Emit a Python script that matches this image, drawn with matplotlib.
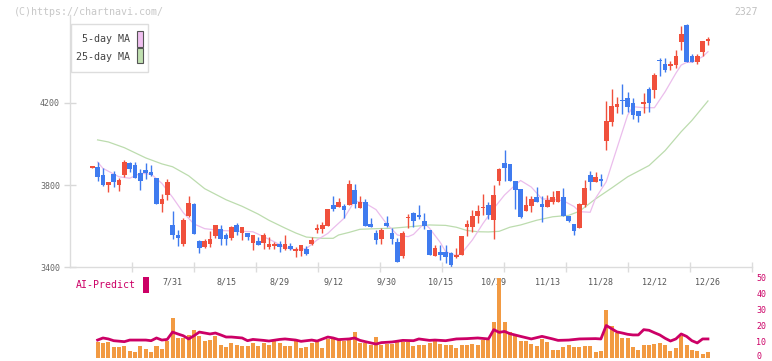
import numpy as np
import matplotlib
matplotlib.use("Agg")
import matplotlib.pyplot as plt
from matplotlib.patches import Rectangle
from matplotlib.transforms import ScaledTranslation

# ---------------- data ----------------
opens = [3885, 3888, 3849, 3802, 3854, 3802, 3849, 3906, 3898, 3857, 3873, 3863, 3834, 3706, 3753, 3605,
         3556, 3514, 3650, 3707, 3527, 3499, 3514, 3553, 3585, 3556, 3541, 3605, 3567, 3566, 3517, 3527,
         3519, 3499, 3502, 3512, 3489, 3502, 3479, 3480, 3489, 3512, 3582, 3585, 3602, 3704, 3694, 3698,
         3702, 3776, 3686, 3717, 3610, 3566, 3538, 3615, 3566, 3524, 3454, 3637, 3663, 3654, 3624, 3580,
         3454, 3473, 3473, 3468, 3449, 3459, 3595, 3595, 3649, 3686, 3702, 3629, 3821, 3907, 3902, 3820,
         3780, 3673, 3698, 3741, 3707, 3693, 3717, 3717, 3741, 3649, 3610, 3592, 3702, 3849, 3815, 3822,
         4015, 4107, 4180, 4212, 4224, 4200, 4161, 4195, 4268, 4263, 4407, 4390, 4380, 4385, 4498, 4580,
         4429, 4400, 4449, 4502]
highs = [3889, 3914, 3881, 3815, 3867, 3834, 3922, 3914, 3914, 3880, 3906, 3898, 3834, 3756, 3828, 3673,
         3580, 3637, 3746, 3711, 3532, 3535, 3576, 3605, 3605, 3566, 3602, 3616, 3595, 3566, 3556, 3546,
         3566, 3546, 3524, 3528, 3556, 3519, 3499, 3509, 3502, 3546, 3610, 3620, 3683, 3746, 3737, 3709,
         3826, 3805, 3746, 3730, 3639, 3582, 3592, 3649, 3589, 3543, 3576, 3659, 3668, 3702, 3663, 3580,
         3507, 3507, 3507, 3475, 3493, 3551, 3629, 3678, 3702, 3756, 3717, 3800, 3883, 3971, 3902, 3820,
         3780, 3746, 3746, 3790, 3746, 3751, 3771, 3771, 3785, 3649, 3610, 3712, 3824, 3868, 3863, 3854,
         4210, 4268, 4229, 4293, 4254, 4224, 4161, 4249, 4278, 4346, 4420, 4420, 4405, 4459, 4576, 4585,
         4439, 4439, 4502, 4522]
lows = [3885, 3821, 3795, 3767, 3792, 3772, 3837, 3865, 3836, 3776, 3831, 3846, 3709, 3670, 3727, 3537,
        3502, 3504, 3644, 3563, 3470, 3494, 3499, 3543, 3509, 3509, 3533, 3554, 3533, 3533, 3485, 3506,
        3486, 3489, 3489, 3475, 3481, 3481, 3450, 3455, 3460, 3507, 3566, 3566, 3602, 3675, 3694, 3641,
        3702, 3688, 3686, 3600, 3595, 3514, 3514, 3595, 3514, 3426, 3442, 3592, 3595, 3634, 3587, 3459,
        3454, 3434, 3418, 3397, 3446, 3459, 3551, 3571, 3615, 3654, 3634, 3537, 3800, 3821, 3821, 3683,
        3639, 3673, 3668, 3717, 3620, 3693, 3707, 3717, 3649, 3620, 3556, 3592, 3693, 3776, 3815, 3795,
        3971, 4088, 4151, 4146, 4156, 4122, 4107, 4151, 4156, 4224, 4332, 4351, 4361, 4371, 4459, 4400,
        4400, 4390, 4429, 4483]
closes = [3888, 3841, 3802, 3815, 3813, 3824, 3911, 3880, 3836, 3821, 3860, 3849, 3709, 3732, 3815, 3558,
          3541, 3629, 3714, 3563, 3494, 3527, 3537, 3605, 3538, 3538, 3595, 3571, 3595, 3548, 3556, 3509,
          3556, 3512, 3512, 3498, 3512, 3488, 3481, 3509, 3465, 3532, 3590, 3605, 3683, 3683, 3717, 3678,
          3805, 3707, 3717, 3600, 3595, 3533, 3582, 3598, 3538, 3426, 3566, 3639, 3624, 3644, 3600, 3459,
          3493, 3459, 3449, 3410, 3459, 3551, 3610, 3649, 3673, 3688, 3654, 3751, 3878, 3883, 3821, 3776,
          3644, 3702, 3732, 3717, 3694, 3727, 3741, 3771, 3649, 3626, 3577, 3707, 3785, 3815, 3839, 3820,
          4112, 4185, 4195, 4210, 4180, 4141, 4137, 4205, 4200, 4337, 4405, 4361, 4390, 4429, 4537, 4400,
          4400, 4429, 4502, 4512]

ma5_idx = [1, 2, 5, 7, 9, 11, 13, 15, 17, 19, 21, 24, 28, 30, 32, 34, 36, 38, 40, 42, 44, 45, 47, 49,
           51, 53, 55, 57, 59, 60, 62, 63, 65, 66, 68, 69, 71, 73, 75, 77, 79, 80, 82, 84, 86, 88, 90,
           91, 93, 94, 96, 98, 100, 101, 103, 105, 107, 109, 110, 111, 112, 114, 115]
ma5 = [3912, 3881, 3840, 3833, 3857, 3853, 3808, 3740, 3665, 3610, 3587, 3578, 3574, 3572, 3548, 3523,
       3495, 3483, 3490, 3532, 3564, 3589, 3637, 3722, 3711, 3680, 3610, 3556, 3548, 3559, 3613, 3589,
       3520, 3475, 3455, 3467, 3532, 3613, 3686, 3751, 3800, 3822, 3790, 3732, 3730, 3723, 3695, 3670,
       3667, 3735, 3816, 3979, 4141, 4182, 4177, 4177, 4255, 4345, 4385, 4398, 4398, 4426, 4450]

ma25_idx = [1, 3, 6, 10, 13, 15, 18, 21, 25, 28, 31, 33, 36, 38, 40, 43, 45, 46, 48, 50, 53, 56, 60,
            63, 66, 68, 70, 72, 74, 76, 78, 80, 83, 86, 89, 91, 94, 97, 100, 104, 107, 110, 112, 115]
ma25 = [4020, 4010, 3982, 3932, 3903, 3889, 3845, 3782, 3728, 3696, 3658, 3628, 3590, 3566, 3546, 3540,
        3540, 3556, 3569, 3584, 3587, 3589, 3598, 3605, 3603, 3594, 3578, 3572, 3571, 3574, 3594, 3605,
        3628, 3645, 3652, 3672, 3732, 3785, 3840, 3895, 3968, 4060, 4115, 4210]

vol_start = 1
volume = [9.7, 9.1, 9.7, 6.6, 6.6, 7.2, 4.1, 3.4, 7.2, 5.3, 3.4, 7.2, 5.3, 10.3, 24.7, 12.2, 12.2, 14.1,
          17.2, 13.4, 10.3, 10.9, 13.4, 7.8, 6.6, 9.1, 7.8, 7.2, 7.2, 9.1, 7.2, 9.1, 7.8, 10.3, 9.1, 7.2,
          7.2, 10.3, 5.9, 6.6, 9.1, 9.7, 5.9, 11.6, 11.6, 10.9, 10.3, 10.9, 15.9, 9.1, 9.1, 7.8, 12.8, 7.8,
          8.4, 8.4, 9.7, 9.7,
          9.7, 7.2, 7.8, 7.8, 9.1, 10.3, 8.4, 7.8, 7.8, 5.9, 7.8, 7.8, 8.4, 7.8, 10.9, 10.9, 22.2, 49.7,
          22.2, 15.9, 14.1, 10.3, 10.3, 8.4, 7.2, 11.6, 9.7, 4.7, 4.7, 6.6, 7.8, 6.6, 6.6, 7.2, 7.2, 3.4,
          4.1, 29.7, 19.7, 15.3, 12.2, 12.2, 6.6, 4.7, 7.8, 7.8, 8.4, 9.1, 7.8, 4.1, 5.9, 13.4, 7.8, 4.7,
          4.1, 2.2, 3.4]

ai_idx = [1, 2, 3, 4, 6, 7, 10, 11, 12, 13, 14, 15, 16, 17, 18, 19, 20, 21, 22, 23, 24, 25, 26, 28, 29,
          30, 32, 33, 35, 36, 38, 39, 41, 42, 44, 45, 46, 48, 49, 50, 51, 53, 54, 56, 58, 60, 61, 63, 64,
          66, 68, 70, 72, 74, 75, 76, 77, 78, 80, 82, 84, 86, 87, 89, 91, 94, 95, 96, 97, 98, 99, 100,
          101, 102, 103, 104, 105, 106, 107, 108, 109, 110, 111, 112, 113, 114, 115]
ai_pred = [10.9, 12.2, 11.6, 10.5, 9.9, 10.9, 10.9, 10.5, 12.2, 10.9, 11.3, 15.9, 14.7, 13.6, 11.6, 13.6,
           15.9, 15.3, 14.7, 15.3, 14.1, 12.8, 12.8, 12.2, 10.5, 11.3, 10.7, 10.3, 11.3, 11.6, 10.9, 10.1,
           10.9, 10.3, 12.8, 12.2, 11.2, 11.6, 12.2, 10.7, 9.9, 8.4, 9.3, 9.7, 10.7, 10.5, 11.6, 10.7,
           10.9, 10.5, 11.6, 11.8, 12.2, 11.6, 17.4, 15.7, 16.3, 14.9, 13.2, 11.6, 13.2, 11.6, 10.7, 10.9,
           11.6, 11.8, 11.6, 20.0, 18.0, 16.0, 15.3, 14.5, 14.1, 14.1, 17.4, 17.0, 15.5, 14.1, 12.0, 10.3,
           11.6, 14.7, 13.2, 10.5, 9.1, 11.6, 11.6]

tick_idx = [15, 25, 35, 45, 55, 65, 75, 85, 95, 105, 115]
tick_labels = ["7/31", "8/15", "8/29", "9/12", "9/30", "10/15", "10/29", "11/13", "11/28", "12/12", "12/26"]
price_ticks = [3400, 3800, 4200]
vol_ticks = [0, 10, 20, 30, 40, 50]

# ---------------- style ----------------
RED = "#f0503c"
BLUE = "#3f7bef"
PINK = "#ebbdec"
GREEN = "#bcdcae"
ORANGE = "#f29a42"
CRIMSON = "#cc0066"
MONO = ["DejaVu Sans Mono"]

W, H = 772, 361
fig = plt.figure(figsize=(W / 100, H / 100), dpi=100)


def fx(x):
    return x / W


def fy(y):
    return 1 - y / H


XMIN, XMAX = (70 - 92.25) / 5.354, (752 - 92.25) / 5.354
Y0, PXU = 3400, 400 / 82.0

ax = fig.add_axes([fx(70), fy(267), fx(752) - fx(70), fy(15) - fy(267)])
ax.set_xlim(XMIN, XMAX)
ax.set_ylim(Y0, Y0 + (267 - 15) * PXU)

idx = np.arange(len(opens))
o = np.array(opens, float)
h = np.array(highs, float)
l = np.array(lows, float)
c = np.array(closes, float)
cols = [RED if cc >= oo else BLUE for oo, cc in zip(o, c)]

ax.plot(ma25_idx, ma25, color=GREEN, lw=0.9, zorder=1)
ax.plot(ma5_idx, ma5, color=PINK, lw=0.9, zorder=1)
ax.vlines(idx, l, h, colors=cols, lw=1.0, zorder=2)
body = np.maximum(np.abs(c - o), 7)
ax.bar(idx, body, bottom=np.minimum(o, c), width=0.87, color=cols, lw=0, zorder=3)

for s in ["top", "right"]:
    ax.spines[s].set_visible(False)
for s in ["left", "bottom"]:
    ax.spines[s].set_color("#dcdcdc")
    ax.spines[s].set_linewidth(1.0)

ax.set_yticks(price_ticks)
ax.set_yticklabels([str(v) for v in price_ticks], fontsize=6, color="#666666", family=MONO)
ax.tick_params(axis="y", direction="inout", length=8.5, width=1, color="#d8d8d8", pad=3)

ax.set_xticks(tick_idx)
ax.set_xticklabels(tick_labels, fontsize=6, color="#555555", family=MONO)
ax.tick_params(axis="x", which="major", length=0, pad=7.5)
minor = [XMIN + k * (XMAX - XMIN) / 11 for k in range(1, 12)]
ax.set_xticks(minor, minor=True)
ax.tick_params(axis="x", which="minor", direction="inout", length=7, width=1, color="#dcdcdc")

# lower panel
ax2 = fig.add_axes([fx(70), fy(357.5), fx(752) - fx(70), fy(277.5) - fy(357.5)])
ax2.set_xlim(XMIN, XMAX)
ax2.set_ylim(0, 50)
vidx = np.arange(vol_start, vol_start + len(volume))
ax2.bar(vidx, volume, width=0.75, color=ORANGE, lw=0, zorder=1, clip_on=False)
ax2.plot(ai_idx, ai_pred, color=CRIMSON, lw=2.0, zorder=2, solid_joinstyle="round")
for s in ax2.spines.values():
    s.set_visible(False)
ax2.set_xticks([])
ax2.yaxis.tick_right()
ax2.set_yticks(vol_ticks)
ax2.set_yticklabels([str(v) for v in vol_ticks], fontsize=6, color=CRIMSON, family=MONO)
ax2.tick_params(axis="y", length=0, pad=3)
ax2.patch.set_alpha(0)
# nudge the bottom "0" label up so it stays fully inside the picture
zero_lbl = ax2.get_yticklabels()[0]
zero_lbl.set_transform(zero_lbl.get_transform() + ScaledTranslation(0, 2.0 / 100, fig.dpi_scale_trans))

# texts and legend
fig.text(fx(14), fy(12), "(C)https://chartnavi.com/", fontsize=7.2, color="#c8c8c8",
         family=MONO, va="center", ha="left")
fig.text(fx(734), fy(12), "2327", fontsize=7.0, color="#c0c0c0", family=MONO, va="center", ha="left")

fig.add_artist(Rectangle((fx(70.7), fy(71.7)), fx(148.3) - fx(70.7), fy(24) - fy(71.7),
                         transform=fig.transFigure, facecolor="white", edgecolor="#dddddd", lw=1))
fig.text(fx(130), fy(38.5), "5-day MA", fontsize=7.2, color="#444444", family=MONO, va="center", ha="right")
fig.text(fx(130), fy(56.5), "25-day MA", fontsize=7.2, color="#444444", family=MONO, va="center", ha="right")
fig.add_artist(Rectangle((fx(136.7), fy(46.7)), fx(142.7) - fx(136.7), fy(31.3) - fy(46.7),
                         transform=fig.transFigure, facecolor="#f0c0f0", edgecolor="#555555", lw=0.8))
fig.add_artist(Rectangle((fx(136.7), fy(63.3)), fx(142.7) - fx(136.7), fy(48.3) - fy(63.3),
                         transform=fig.transFigure, facecolor="#c0e0b0", edgecolor="#555555", lw=0.8))

fig.text(fx(76), fy(285), "AI-Predict", fontsize=7.1, color=CRIMSON, family=MONO, va="center", ha="left")
fig.add_artist(Rectangle((fx(142.5), fy(293)), fx(149) - fx(142.5), fy(277) - fy(293),
                         transform=fig.transFigure, facecolor=CRIMSON, edgecolor="none"))

fig.savefig("out.png", dpi=100)
